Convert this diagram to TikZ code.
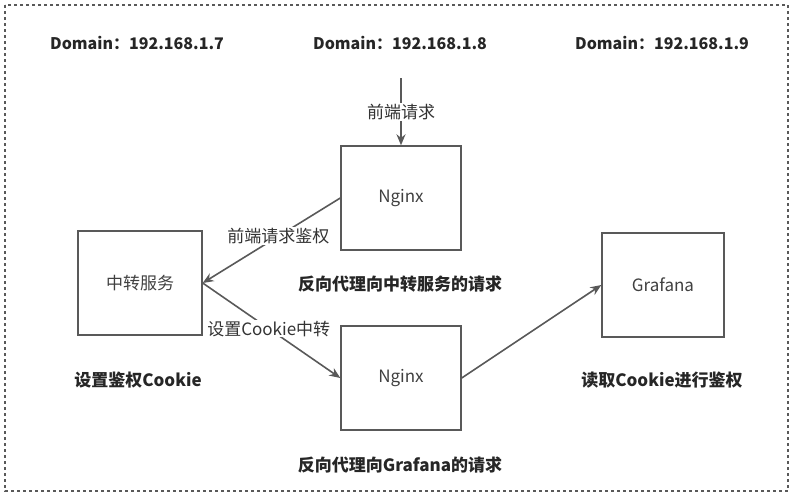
\documentclass[tikz,border=0pt]{standalone}
\usepackage{fontspec}
\setmainfont{Noto Sans CJK SC}
\usetikzlibrary{positioning,arrows.meta}

\tikzset{
  svcbox/.style={draw=black!65, line width=1.4pt, minimum width=120pt, minimum height=104pt, font=\fontsize{17}{19}\selectfont, text=black!75},
  flow/.style={draw=black!65, line width=1.6pt, -{Stealth[length=11pt,width=9pt]}},
  flowlabel/.style={fill=white, inner sep=1pt, font=\fontsize{17}{19}\selectfont, text=black!80},
  note/.style={font=\bfseries\fontsize{17}{19}\selectfont, text=black!85},
  domainlabel/.style={font=\bfseries\fontsize{16}{18}\selectfont, text=black!85}
}

\begin{document}
\begin{tikzpicture}[x=1pt,y=-1pt]

\useasboundingbox (0,0) rectangle (794,496);
\draw[black!65, line width=1.3pt, dash pattern=on 3pt off 3pt] (5,5) rectangle (788,491);

% domains
\node[domainlabel] at (137,43) {Domain：192.168.1.7};
\node[domainlabel] at (400,43) {Domain：192.168.1.8};
\node[domainlabel] at (662,43) {Domain：192.168.1.9};

% boxes
\node[svcbox] (nginxa) at (401,198) {Nginx};
\node[svcbox, minimum width=124pt] (relay) at (140,283) {中转服务};
\node[svcbox] (nginxb) at (401,378) {Nginx};
\node[svcbox, minimum width=122pt] (grafana) at (663,285) {Grafana};

% notes
\node[note] at (400,284) {反向代理向中转服务的请求};
\node[note] at (138,380) {设置鉴权Cookie};
\node[note] at (662,380) {读取Cookie进行鉴权};
\node[note] at (400,465) {反向代理向Grafana的请求};

% connectors
\coordinate (front) at (401,78);
\draw[flow] (front) -- node[flowlabel] {前端请求} (nginxa.north);
\draw[flow] (nginxa.west) -- node[flowlabel, pos=0.45] {前端请求鉴权} (relay.east);
\draw[flow] (relay.east) -- node[flowlabel, pos=0.48] {设置Cookie中转} (nginxb.west);
\draw[flow] (nginxb.east) -- (grafana.west);

\end{tikzpicture}
\end{document}
